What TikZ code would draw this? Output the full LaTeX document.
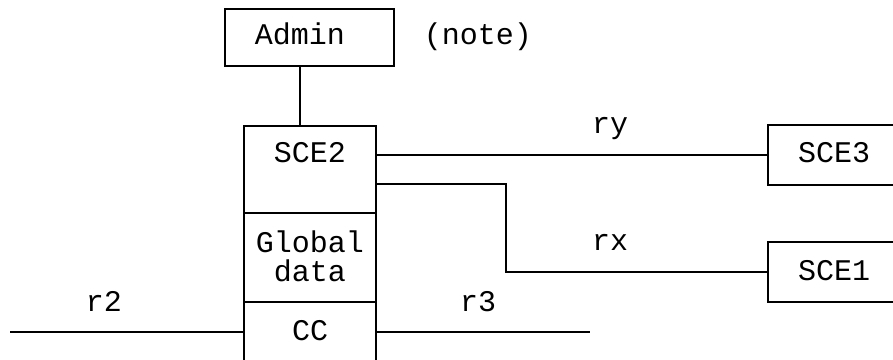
\documentclass[tikz,border=0pt]{standalone}
\usepackage{fontspec}
\setmonofont{Liberation Mono}
\begin{document}
\begin{tikzpicture}[x=1pt,y=1pt,line width=2pt,
  txt/.style={font=\fontsize{30}{29}\selectfont\ttfamily,inner sep=0pt,anchor=base},
  box/.style={draw,inner sep=0pt,outer sep=0pt}]
\useasboundingbox (0,0) rectangle (893,359);
\clip (0,0) rectangle (893,359);
% boxes
\node[box,minimum width=169pt,minimum height=57pt] (admin) at (309.5,321.5) {};
\node[box,minimum width=132pt,minimum height=87pt] (sce2) at (310,189.5) {};
\node[box,minimum width=132pt,minimum height=89pt] (glob) at (310,101.5) {};
\node[box,minimum width=132pt,minimum height=77pt] (cc) at (310,18.5) {};
\node[box,minimum width=132pt,minimum height=60pt] (sce3) at (834,204) {};
\node[box,minimum width=132pt,minimum height=60pt] (sce1) at (834,87) {};
% texts
\node[txt] (admintxt) at (300,314) {Admin};
\node[txt] (note) at (478,314) {(note)};
\node[txt] (sce2txt) at (310,196) {SCE2};
\node[txt,anchor=center,align=center] (globtxt) at (310,103) {Global\\data};
\node[txt] (cctxt) at (310,19) {CC};
\node[txt] (sce3txt) at (834,196) {SCE3};
\node[txt] (sce1txt) at (834,79) {SCE1};
\node[txt] (ry) at (610,225) {ry};
\node[txt] (rx) at (610,109) {rx};
\node[txt] (r2) at (104,48) {r2};
\node[txt] (r3) at (478,48) {r3};
% connectors
\draw (admin.south -| admintxt) -- (sce2.north -| admintxt);
\draw (sce2.east |- sce3) -- (sce3.west);
\coordinate (rxbend) at (506,175);
\draw (sce2.east |- rxbend) -- (rxbend) -- (rxbend |- sce1.west) -- (sce1.west);
\coordinate (r2end) at (10,27);
\coordinate (r3end) at (590,27);
\draw (r2end) -- (cc.west |- r2end);
\draw (cc.east |- r3end) -- (r3end);
\end{tikzpicture}
\end{document}
